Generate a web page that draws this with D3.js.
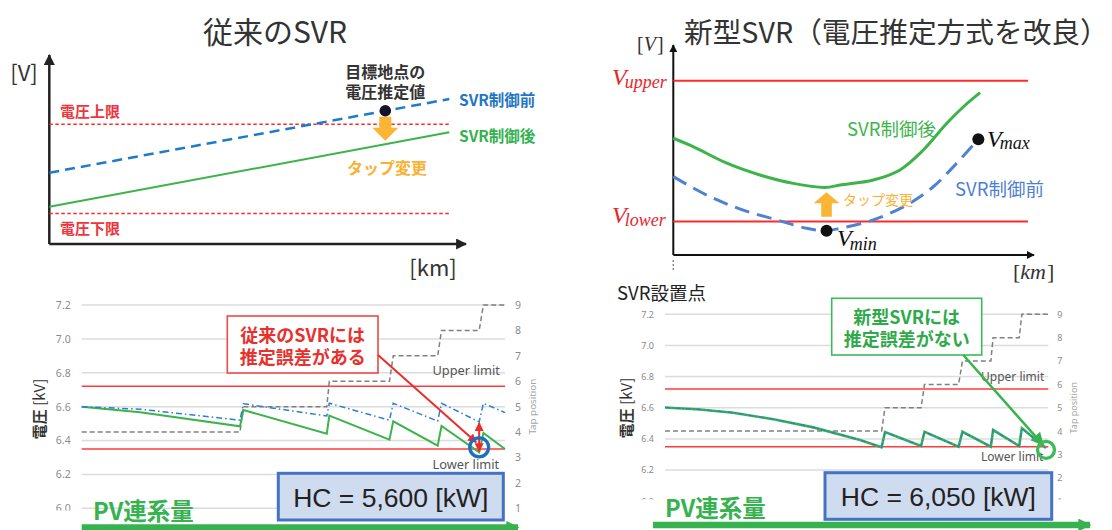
<!DOCTYPE html>
<html>
<head>
<meta charset="utf-8">
<script src="https://cdn.jsdelivr.net/npm/d3@7"></script>
<style>
  body { margin: 0; background: #fff; }
  svg { font-family: "Noto Sans CJK JP", "Noto Sans", sans-serif; }
</style>
</head>
<body>
<svg id="chart" width="1112" height="530"></svg>
<script>
(function () {
    'use strict';

    // ---- top left sketch (arbitrary 0-100 units) ----
    var sketchLimits = [63.3, 16.2];          // 電圧上限, 電圧下限
    var sketchX = [0, 100];
    var sketchBefore = [37.7, 76.7];          // SVR制御前
    var sketchAfter = [19.7, 59.1];           // SVR制御後
    var targetPoint = [84, 70.5];             // 目標地点の電圧推定値

    // ---- top right sketch ----
    var curveLimits = [83, 15.9];             // Vupper, Vlower
    var afterCurveX = [0, 5.6, 15.1, 24.4, 33.8, 42.8, 47.0, 56.4, 63.9, 70.5, 77.1, 81.8, 86.5];
    var afterCurveY = [55.6, 51.6, 43.7, 38.1, 34.1, 32.2, 33.3, 35.7, 40.5, 50.0, 62.7, 70.6, 77.3];
    var beforeCurveX = [0, 10.3, 19.7, 29.2, 37.6, 43.2, 47.0, 56.4, 65.8, 73.3, 79.9, 86.0];
    var beforeCurveY = [37.3, 27.8, 21.4, 16.7, 12.7, 11.6, 12.7, 16.7, 23.8, 32.5, 43.7, 55.1];
    var vMin = [43.2, 11.6];
    var vMax = [86.0, 55.1];

    // ---- bottom simulations ----
    var kvTicks = [6.0, 6.2, 6.4, 6.6, 6.8, 7.0, 7.2];
    var tapTicks = [1, 2, 3, 4, 5, 6, 7, 8, 9];
    var kvLimits = [6.72, 6.35];

    // 従来のSVR
    var oldPos = [0, 13.8, 37.4, 38.2, 57.9, 58.5, 72.7, 73.6, 84.1, 85.0, 93.9, 94.9, 100];
    var oldAfter = [6.60, 6.567, 6.484, 6.58, 6.44, 6.547, 6.405, 6.513, 6.37, 6.486, 6.33, 6.445, 6.35];
    var oldBefore = [6.60, 6.585, 6.52, 6.617, 6.545, 6.62, 6.52, 6.62, 6.515, 6.62, 6.51, 6.62, 6.565];
    var oldTapPos = [0, 37.4, 38.2, 57.9, 58.5, 72.7, 73.6, 84.1, 85.0, 93.9, 94.9, 100];
    var oldTap = [4, 4, 5, 5, 6, 6, 7, 7, 8, 8, 9, 9];

    // 新型SVR
    var newPos = [0, 9.1, 17.8, 28.3, 38.7, 50.9, 56.5, 57.4, 66.8, 67.7, 76.6, 77.6, 85.0, 85.6, 92.4, 93.1, 99.4];
    var newKV = [6.602, 6.589, 6.568, 6.526, 6.474, 6.393, 6.346, 6.444, 6.354, 6.446, 6.35, 6.446, 6.35, 6.457, 6.354, 6.468, 6.342];
    var newTapPos = [0, 56.5, 57.4, 66.8, 67.7, 76.6, 77.6, 85.0, 85.6, 92.4, 93.1, 100];
    var newTap = [4, 4, 5, 5, 6, 6, 7, 7, 8, 8, 9, 9];

    var serif = '"Liberation Serif", "DejaVu Serif", serif';
    var latin = '"Noto Sans", sans-serif';
    var arial = '"Liberation Sans", Arial, sans-serif';

    var svg = d3.select('#chart');
    var defs = svg.append('defs');

    function marker(id, color, size) {
        defs.append('marker').attr('id', id)
            .attr('viewBox', '0 0 10 10').attr('refX', 9).attr('refY', 5)
            .attr('markerWidth', size).attr('markerHeight', size)
            .attr('markerUnits', 'userSpaceOnUse')
            .attr('orient', 'auto-start-reverse')
            .append('path').attr('d', 'M0,0L10,5L0,10Z').attr('fill', color);
    }
    marker('arrBlack', '#222', 11);
    marker('arrBlackS', '#111', 8);
    marker('arrRed', '#ee2b2b', 9);
    marker('arrGreen', '#36b24f', 13);

    function zip(xs, ys) { return xs.map(function (d, i) { return [d, ys[i]]; }); }

    function label(g, x, y, str, size, color, weight, anchor) {
        return g.append('text').attr('x', x).attr('y', y)
            .attr('dominant-baseline', 'central')
            .attr('text-anchor', anchor || 'start')
            .attr('font-size', size).attr('fill', color)
            .attr('font-weight', weight || 'normal')
            .text(str);
    }

    // two lines in one text element
    function label2(g, x, y, lines, gap, size, color, weight) {
        var t = g.append('text').attr('x', x).attr('y', y)
            .attr('dominant-baseline', 'central').attr('text-anchor', 'middle')
            .attr('font-size', size).attr('fill', color).attr('font-weight', weight);
        t.append('tspan').attr('x', x).text(lines[0]);
        t.append('tspan').attr('x', x).attr('dy', gap).text(lines[1]);
        return t;
    }

    // ================= top left =================
    var g1 = svg.append('g');
    var tlx = d3.scaleLinear().domain([0, 100]).range([49.3, 449.3]);
    var tly = d3.scaleLinear().domain([0, 100]).range([244, 55]);

    label(g1, 275, 30, '従来のSVR', 30, '#333', 'normal', 'middle');

    g1.append('line').attr('x1', tlx(0)).attr('y1', tly(0)).attr('x2', tlx(0)).attr('y2', tly(100))
        .attr('stroke', '#222').attr('stroke-width', 2.5).attr('marker-end', 'url(#arrBlack)');
    g1.append('line').attr('x1', tlx(0)).attr('y1', tly(0)).attr('x2', 466).attr('y2', tly(0))
        .attr('stroke', '#222').attr('stroke-width', 2.5).attr('marker-end', 'url(#arrBlack)');
    label(g1, 24, 71, '[V]', 22, '#333', 'normal', 'middle');
    label(g1, 433, 266, '[km]', 22, '#333', 'normal', 'middle');

    g1.selectAll('line.lim').data(sketchLimits).enter().append('line')
        .attr('x1', tlx(0)).attr('x2', tlx(100))
        .attr('y1', function (d) { return tly(d); }).attr('y2', function (d) { return tly(d); })
        .attr('stroke', '#ff2a2a').attr('stroke-width', 1.5).attr('stroke-dasharray', '3.5,2.5');
    label(g1, 60, tly(sketchLimits[0]) - 14, '電圧上限', 15, '#f0343c', 'bold');
    label(g1, 60, tly(sketchLimits[1]) + 14, '電圧下限', 15, '#f0343c', 'bold');

    var tlLine = d3.line().x(function (d) { return tlx(d[0]); }).y(function (d) { return tly(d[1]); });
    g1.append('path').attr('d', tlLine(zip(sketchX, sketchAfter)))
        .attr('fill', 'none').attr('stroke', '#3cb44b').attr('stroke-width', 2);
    g1.append('path').attr('d', tlLine(zip(sketchX, sketchBefore)))
        .attr('fill', 'none').attr('stroke', '#1f7bc8').attr('stroke-width', 2.5).attr('stroke-dasharray', '10,6');

    var px = tlx(targetPoint[0]), py = tly(targetPoint[1]);
    g1.append('path')
        .attr('d', 'M' + (px - 6) + ',' + (py + 6) + 'h12v11h7l-13,13l-13,-13h7z')
        .attr('fill', '#fbb535');
    g1.append('circle').attr('cx', px).attr('cy', py).attr('r', 5.8).attr('fill', '#141428');
    label2(g1, px, 71, ['目標地点の', '電圧推定値'], 20, 16, '#333', 'bold');
    label(g1, 459, tly(sketchBefore[1]), 'SVR制御前', 15.5, '#1f77c4', 'bold');
    label(g1, 459, 135, 'SVR制御後', 15.5, '#34b150', 'bold');
    label(g1, 387, 167, 'タップ変更', 16, '#f9b233', 'bold', 'middle');

    // ================= top right =================
    var g2 = svg.append('g');
    var trx = d3.scaleLinear().domain([0, 100]).range([673.3, 1028]);
    var tryy = d3.scaleLinear().domain([0, 100]).range([255, 45]);

    g2.append('text').attr('x', 684).attr('y', 30).attr('dominant-baseline', 'central')
        .attr('font-size', 28.7).attr('fill', '#333').text('新型SVR（電圧推定方式を改良）');

    g2.append('line').attr('x1', trx(0)).attr('y1', tryy(0)).attr('x2', trx(0)).attr('y2', tryy(100))
        .attr('stroke', '#111').attr('stroke-width', 2).attr('marker-end', 'url(#arrBlackS)');
    g2.append('line').attr('x1', trx(0)).attr('y1', tryy(0)).attr('x2', 1034).attr('y2', tryy(0))
        .attr('stroke', '#111').attr('stroke-width', 2).attr('marker-end', 'url(#arrBlackS)');
    g2.append('line').attr('x1', trx(0)).attr('y1', 260).attr('x2', trx(0)).attr('y2', 271)
        .attr('stroke', '#888').attr('stroke-width', 1.5).attr('stroke-dasharray', '2,2');

    var tv = g2.append('text').attr('x', 637).attr('y', 51).style('font-family', serif)
        .attr('font-size', 20).attr('fill', '#333');
    tv.append('tspan').text('[');
    tv.append('tspan').attr('font-style', 'italic').text('V');
    tv.append('tspan').attr('dx', 1).text(']');
    var tk = g2.append('text').attr('x', 1013).attr('y', 279).style('font-family', serif)
        .attr('font-size', 22).attr('fill', '#333');
    tk.append('tspan').text('[');
    tk.append('tspan').attr('font-style', 'italic').text('km');
    tk.append('tspan').attr('dx', 1).text(']');

    function mathLabel(g, x, y, sub, color, subDy) {
        var t = g.append('text').attr('x', x).attr('y', y).style('font-family', serif)
            .attr('font-style', 'italic').attr('fill', color);
        t.append('tspan').attr('font-size', 24).text('V');
        t.append('tspan').attr('font-size', 18).attr('dx', -2).attr('dy', subDy).text(sub);
    }

    g2.selectAll('line.lim').data(curveLimits).enter().append('line')
        .attr('x1', trx(0)).attr('x2', trx(100))
        .attr('y1', function (d) { return tryy(d); }).attr('y2', function (d) { return tryy(d); })
        .attr('stroke', '#ff2a2a').attr('stroke-width', 2);
    mathLabel(g2, 612, tryy(curveLimits[0]) + 4, 'upper', '#e8262c', 3);
    mathLabel(g2, 612, tryy(curveLimits[1]) + 1, 'lower', '#e8262c', 3);

    var trLine = d3.line().curve(d3.curveCatmullRom.alpha(0.5))
        .x(function (d) { return trx(d[0]); }).y(function (d) { return tryy(d[1]); });
    g2.append('path').attr('d', trLine(zip(afterCurveX, afterCurveY)))
        .attr('fill', 'none').attr('stroke', '#3cb44b').attr('stroke-width', 3);
    g2.append('path').attr('d', trLine(zip(beforeCurveX, beforeCurveY)))
        .attr('fill', 'none').attr('stroke', '#4f82d2').attr('stroke-width', 3).attr('stroke-dasharray', '15,8');

    var ax = trx(vMin[0]);
    g2.append('path')
        .attr('d', 'M' + (ax - 5.3) + ',216.7v-13.4h-7.7l13,-11l13,11h-7.7v13.4z')
        .attr('fill', '#fbb535');
    label(g2, 843, 199, 'タップ変更', 14, '#f9b233');

    g2.append('circle').attr('cx', trx(vMin[0])).attr('cy', tryy(vMin[1])).attr('r', 6).attr('fill', '#111');
    g2.append('circle').attr('cx', trx(vMax[0])).attr('cy', tryy(vMax[1])).attr('r', 6).attr('fill', '#111');
    mathLabel(g2, 837, 246, 'min', '#111', 4);
    mathLabel(g2, 987, 146.5, 'max', '#111', 2);
    label(g2, 847, 128, 'SVR制御後', 18.5, '#3cb54a');
    label(g2, 955, 188, 'SVR制御前', 18.5, '#4f7fcf');

    label(svg, 617, 292, 'SVR設置点', 18.5, '#222');

    // ================= bottom simulations =================
    function drawSim(o) {
        var g = svg.append('g');
        var x = d3.scaleLinear().domain([0, 100]).range([o.x0, o.x1]);
        var y = d3.scaleLinear().domain([6.0, 7.2]).range([o.yb, o.yt]);
        var t = d3.scaleLinear().domain([1, 9]).range([o.yb, o.yt]);

        g.selectAll('line.grid').data(kvTicks.filter(function (d) { return d >= o.gridMin; }))
            .enter().append('line')
            .attr('x1', o.x0).attr('x2', o.x1)
            .attr('y1', function (d) { return y(d); }).attr('y2', function (d) { return y(d); })
            .attr('stroke', '#dcdcdc').attr('stroke-width', 1.5);

        var la = g.append('g').attr('transform', 'translate(' + o.x0 + ',0)')
            .call(d3.axisLeft(y).tickValues(kvTicks).tickSize(0).tickPadding(11).tickFormat(d3.format('.1f')));
        var ra = g.append('g').attr('transform', 'translate(' + o.x1 + ',0)')
            .call(d3.axisRight(t).tickValues(tapTicks).tickSize(0).tickPadding(o.rpad).tickFormat(d3.format('d')));
        [la, ra].forEach(function (a) {
            a.select('.domain').remove();
            a.attr('font-family', null).attr('font-size', null);
            a.selectAll('text').attr('fill', '#8c8c8c').attr('font-size', o.tickSize)
                .style('font-family', latin);
        });

        g.selectAll('line.lim').data(kvLimits).enter().append('line')
            .attr('x1', o.x0).attr('x2', o.x1)
            .attr('y1', function (d) { return y(d); }).attr('y2', function (d) { return y(d); })
            .attr('stroke', '#ff3b3b').attr('stroke-width', 1.6);

        var tapLine = d3.line().x(function (d) { return x(d[0]); }).y(function (d) { return t(d[1]); });
        g.append('path').attr('d', tapLine(zip(o.tapPos, o.tap)))
            .attr('fill', 'none').attr('stroke', '#808080').attr('stroke-width', 1.5).attr('stroke-dasharray', '5,3');

        var kvLine = d3.line().x(function (d) { return x(d[0]); }).y(function (d) { return y(d[1]); });
        g.append('path').attr('d', kvLine(zip(o.pos, o.after)))
            .attr('fill', 'none').attr('stroke', '#3cb44b').attr('stroke-width', o.greenW);
        g.append('path').attr('d', kvLine(zip(o.pos, o.before)))
            .attr('fill', 'none').attr('stroke', '#2a7fd0').attr('stroke-width', o.blueW)
            .attr('stroke-dasharray', o.blueDash);

        label(g, o.limitX, y(kvLimits[0]) - o.limitOff[0], 'Upper limit', o.limitSize, '#555').style('font-family', latin);
        label(g, o.limitX, y(kvLimits[1]) + o.limitOff[1], 'Lower limit', o.limitSize, '#555').style('font-family', latin);

        g.append('text').attr('transform', 'translate(' + o.tapLabelX + ',' + y(6.6) + ') rotate(-90)')
            .attr('text-anchor', 'middle').attr('dominant-baseline', 'central')
            .attr('font-size', o.tapTitleSize).attr('fill', '#a6a6a6')
            .style('font-family', latin).text('Tap position');

        var yl = g.append('text').attr('transform', 'translate(' + o.kvLabelX + ',' + o.kvLabelY + ') rotate(-90)')
            .attr('text-anchor', 'middle').attr('dominant-baseline', 'central')
            .attr('font-size', 15).attr('fill', '#333');
        yl.append('tspan').attr('font-weight', 'bold').text('電圧');
        yl.append('tspan').text(' [kV]');

        // labels cut at the bottom
        o.covers.forEach(function (c) {
            g.append('rect').attr('x', c[0]).attr('y', c[1]).attr('width', c[2]).attr('height', c[3]).attr('fill', '#fff');
        });

        // callout
        var b = o.box;
        g.append('rect').attr('x', b[0]).attr('y', b[1]).attr('width', b[2] - b[0]).attr('height', b[3] - b[1])
            .attr('fill', '#fff').attr('stroke', o.boxColor).attr('stroke-width', 1.6);
        var cx = (b[0] + b[2]) / 2, cy = (b[1] + b[3]) / 2;
        label2(g, cx, cy - 11, o.boxLines, 22, 18, o.boxText, 'bold');

        var hx = x(o.hit[0]), hy = y(o.hit[1]);
        g.append('line').attr('x1', o.pointerFrom[0]).attr('y1', o.pointerFrom[1])
            .attr('x2', hx - 3).attr('y2', hy - 5)
            .attr('stroke', o.pointerColor).attr('stroke-width', o.pointerW).attr('marker-end', 'url(#' + o.pointerMarker + ')');
        if (o.gap) {
            g.append('line').attr('x1', x(o.gap[0])).attr('x2', x(o.gap[0]))
                .attr('y1', y(o.gap[1]) + 1).attr('y2', y(o.gap[2]) - 1)
                .attr('stroke', '#ee2b2b').attr('stroke-width', 2)
                .attr('marker-start', 'url(#arrRed)').attr('marker-end', 'url(#arrRed)');
        }
        g.append('circle').attr('cx', hx).attr('cy', hy).attr('r', o.circleR)
            .attr('fill', 'none').attr('stroke', o.circleColor).attr('stroke-width', 3.3);

        // HC box
        var h = o.hcBox;
        g.append('rect').attr('x', h[0]).attr('y', h[1]).attr('width', h[2] - h[0]).attr('height', h[3] - h[1])
            .attr('fill', '#cfdbef').attr('stroke', '#4472c4').attr('stroke-width', 3);
        g.append('text').attr('x', (h[0] + h[2]) / 2).attr('y', (h[1] + h[3]) / 2 + 1)
            .attr('text-anchor', 'middle').attr('dominant-baseline', 'central')
            .style('font-family', arial)
            .attr('font-size', 26.5).attr('fill', '#222').text(o.hcText);

        // PV arrow
        label(g, o.pvX, o.pvY, 'PV連系量', 23.5, '#36b24f', 'bold');
        g.append('line').attr('x1', o.arrow[0]).attr('x2', o.arrow[1]).attr('y1', o.arrow[2]).attr('y2', o.arrow[2])
            .attr('stroke', '#36b24f').attr('stroke-width', 6.5).attr('marker-end', 'url(#arrGreen)');
    }

    drawSim({
        x0: 81.7, x1: 505, yb: 508.3, yt: 305, rpad: 10, tickSize: 10.5, gridMin: 6.0,
        pos: oldPos, after: oldAfter, before: oldBefore, tapPos: oldTapPos, tap: oldTap,
        greenW: 2, blueW: 1.5, blueDash: '6,3,1.5,3',
        limitX: 432.5, limitSize: 12.8, limitOff: [16, 15],
        tapLabelX: 532, tapTitleSize: 9.8, kvLabelX: 37.5, kvLabelY: 409,
        covers: [[48, 510.5, 30, 12]],
        box: [227.3, 316, 378, 373], boxColor: '#f04848', boxText: '#e8302c',
        boxLines: ['従来のSVRには', '推定誤差がある'],
        pointerFrom: [378, 355], pointerColor: '#ee2b2b', pointerW: 2, pointerMarker: 'arrRed',
        hit: [93.9, 6.36], gap: [93.9, 6.51, 6.33], circleR: 9.5, circleColor: '#1f6fbf',
        hcBox: [278.3, 473.3, 503.3, 520], hcText: 'HC = 5,600 [kW]',
        pvX: 93, pvY: 510, arrow: [81.7, 518, 527.5]
    });

    drawSim({
        x0: 665, x1: 1048.3, yb: 501.2, yt: 314.3, rpad: 9, tickSize: 9, gridMin: 6.2,
        pos: newPos, after: newKV, before: newKV, tapPos: newTapPos, tap: newTap,
        greenW: 2.6, blueW: 1.3, blueDash: '5,2,1.5,2',
        limitX: 981, limitSize: 12, limitOff: [13, 10],
        tapLabelX: 1073.5, tapTitleSize: 9, kvLabelX: 625, kvLabelY: 408,
        covers: [[632, 499.5, 26, 12], [1052, 499.5, 16, 12]],
        box: [831.7, 298.3, 981.7, 355], boxColor: '#3cb95a', boxText: '#2eaa4a',
        boxLines: ['新型SVRには', '推定誤差がない'],
        pointerFrom: [963.3, 355], pointerColor: '#36b24f', pointerW: 2.5, pointerMarker: 'arrGreen',
        hit: [99.4, 6.33], gap: null, circleR: 8.5, circleColor: '#3cb95a',
        hcBox: [825, 472.7, 1051.7, 519.3], hcText: 'HC = 6,050 [kW]',
        pvX: 665, pvY: 506.7, arrow: [653, 1090, 525]
    });
})();
</script>
</body>
</html>
